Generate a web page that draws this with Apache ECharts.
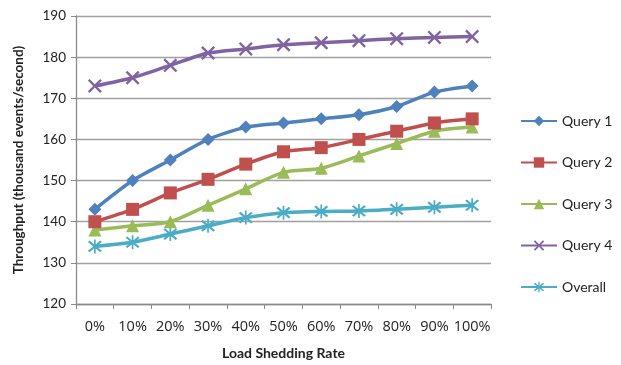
<!DOCTYPE html>
<html><head><meta charset="utf-8">
<script src="https://cdn.jsdelivr.net/npm/echarts@6/dist/echarts.min.js"></script>
<style>html,body{margin:0;padding:0;background:#fff}#c{width:621px;height:365px}</style>
</head><body><div id="c"></div>
<script>
const categories = ['0%','10%','20%','30%','40%','50%','60%','70%','80%','90%','100%'];
const query1 = [143, 150, 155, 160, 163, 164, 165, 166, 168, 171.5, 173];
const query2 = [140, 143, 147, 150.3, 154, 157, 158, 160, 162, 164, 165];
const query3 = [138, 139, 140, 144, 148, 152, 153, 156, 159, 162, 163];
const query4 = [173, 175, 178, 181, 182, 183, 183.5, 184, 184.5, 184.8, 185];
const overall = [134, 135, 137, 139, 141, 142.2, 142.5, 142.6, 143, 143.5, 144];
const seriesNames = ['Query 1','Query 2','Query 3','Query 4','Overall'];
const yTicks = {min:120, max:190, interval:10};

const X_PATH = 'path://M0,1.2L1.2,0L5,3.8L8.8,0L10,1.2L6.2,5L10,8.8L8.8,10L5,6.2L1.2,10L0,8.8L3.8,5Z';
const AST_PATH = 'path://M0,1.2L1.2,0L5,3.8L8.8,0L10,1.2L6.2,5L10,8.8L8.8,10L5,6.2L1.2,10L0,8.8L3.8,5Z M4.4,-1L5.6,-1L5.6,11L4.4,11Z';
const colors = ['#4F81BD','#C0504D','#9BBB59','#8064A2','#4BACC6'];
const symbols = ['diamond','rect','triangle',X_PATH,AST_PATH];
const sizes = [13,13,13,14,14];
const data = [query1,query2,query3,query4,overall];
const font = '"Liberation Sans Narrow", "Open Sans", sans-serif';
const font2 = 'Lato, "Liberation Sans", sans-serif';

const chart = echarts.init(document.getElementById('c'), null, {renderer:'canvas'});
chart.setOption({
  animation:false,
  textStyle:{fontFamily:font2},
  grid:{left:76, right:130, top:16, bottom:60, containLabel:false},
  legend:{
    orient:'vertical', left:515, top:109, itemGap:27.5, itemWidth:36, itemHeight:13,
    textStyle:{fontSize:14, color:'#222', fontFamily:font2},
    data:seriesNames
  },
  xAxis:{
    type:'category', data:categories, boundaryGap:true,
    name:'Load Shedding Rate', nameLocation:'middle', nameGap:42,
    nameTextStyle:{fontWeight:'bold', fontSize:14, color:'#222', fontFamily:font2},
    axisLine:{lineStyle:{color:'#8a8a8a', width:1.3}},
    axisTick:{show:true, alignWithLabel:false, length:5, lineStyle:{color:'#8a8a8a'}},
    axisLabel:{fontSize:14.5, color:'#222', margin:15, interval:0, fontFamily:font}
  },
  yAxis:{
    type:'value', min:yTicks.min, max:yTicks.max, interval:yTicks.interval,
    name:'Throughput (thousand events/second)', nameLocation:'middle', nameGap:50,
    nameTextStyle:{fontWeight:'bold', fontSize:13.5, color:'#222', fontFamily:font2},
    axisLine:{show:true, lineStyle:{color:'#8a8a8a', width:1.3}},
    axisTick:{show:true, length:5, lineStyle:{color:'#8a8a8a'}},
    axisLabel:{fontSize:13.5, color:'#222', margin:10},
    splitLine:{lineStyle:{color:'#a0a0a0', width:1.3}}
  },
  series: seriesNames.map((n,i)=>({
    name:n, type:'line', data:data[i], smooth:0.25,
    symbol:symbols[i], symbolSize:sizes[i],
    lineStyle:{color:colors[i], width:3.5},
    itemStyle:{color:colors[i]},
    z: 10-i
  }))
});
</script></body></html>
